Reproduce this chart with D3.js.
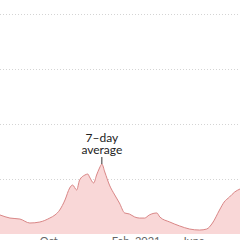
<!DOCTYPE html>
<html>
<head>
<meta charset="utf-8">
<script src="https://cdn.jsdelivr.net/npm/d3@7"></script>
<style>
	html, body { margin: 0; padding: 0; background: #fff; }
	svg { display: block; }
</style>
</head>
<body>
<div id="chart"></div>
<script>
	// 7-day average (thousands)
	var dates = ["2020-07-25", "2020-08-11", "2020-08-28", "2020-09-14", "2020-10-01",
		"2020-10-18", "2020-10-27", "2020-11-04", "2020-11-13", "2020-11-21",
		"2020-11-26", "2020-12-03", "2020-12-08", "2020-12-17", "2020-12-22",
		"2020-12-25", "2021-01-01", "2021-01-06", "2021-01-11", "2021-01-15",
		"2021-01-20", "2021-01-28", "2021-02-06", "2021-02-14", "2021-02-23",
		"2021-03-03", "2021-03-12", "2021-03-20", "2021-03-29", "2021-04-06",
		"2021-04-19", "2021-04-24", "2021-05-11", "2021-05-28", "2021-06-14",
		"2021-07-01", "2021-07-13", "2021-07-23", "2021-08-04", "2021-08-12",
		"2021-08-21", "2021-08-30", "2021-09-08"];
	var averages = [17.3, 14.5, 13.6, 10, 10.9,
		14.5, 17.3, 21.8, 30.9, 41.8,
		44.5, 40, 49.1, 53.6, 54.5,
		51.8, 46.4, 53.6, 60, 63.6,
		56.4, 44.5, 35.5, 28.2, 19.1,
		18.2, 15.5, 14.5, 14.5, 17.3,
		19.1, 15.5, 10.9, 7.3, 4.5,
		3.6, 4.5, 10, 21.8, 29.1,
		33.6, 38.2, 40.9];
	var gridValues = [50, 100, 150, 200];
	var tickDates = ["2020-10-01", "2021-02-01", "2021-06-01"];
	var tickLabels = ["Oct.", "Feb. 2021", "June"];
	var annotationDate = "2021-01-15";
	var annotationLines = ["7\u2013day", "average"];

	var width = 240, height = 240;
	var parse = d3.timeParse("%Y-%m-%d");

	var data = dates.map(function(d, i) {
		return { date: parse(d), value: averages[i] };
	});

	var x = d3.scaleTime()
		.domain([parse("2020-07-25"), parse("2021-09-08")])
		.range([0, width]);
	var y = d3.scaleLinear()
		.domain([0, 200])
		.range([234, 14]);

	var svg = d3.select("#chart").append("svg")
		.attr("width", width)
		.attr("height", height);

	// gridlines
	svg.selectAll(".grid").data(gridValues).enter().append("line")
		.attr("x1", 0).attr("x2", width)
		.attr("y1", function(d) { return Math.round(y(d)) + 0.5; })
		.attr("y2", function(d) { return Math.round(y(d)) + 0.5; })
		.attr("stroke", "#d4d4d4")
		.attr("stroke-dasharray", "1,2");

	var area = d3.area()
		.x(function(d) { return x(d.date); })
		.y0(y(0))
		.y1(function(d) { return y(d.value); })
		.curve(d3.curveMonotoneX);
	var line = d3.line()
		.x(function(d) { return x(d.date); })
		.y(function(d) { return y(d.value); })
		.curve(d3.curveMonotoneX);

	svg.append("path").datum(data)
		.attr("d", area)
		.attr("fill", "#f9d7d7");
	svg.append("path").datum(data)
		.attr("d", line)
		.attr("fill", "none")
		.attr("stroke", "#d98686")
		.attr("stroke-width", 1);

	// x axis labels (cut off at bottom)
	svg.selectAll(".tick").data(tickDates).enter().append("text")
		.attr("x", function(d) { return x(parse(d)); })
		.attr("y", 245)
		.attr("font-family", "Lato, 'Liberation Sans', sans-serif")
		.attr("font-size", "11px")
		.attr("fill", "#666")
		.text(function(d, i) { return tickLabels[i]; });

	// annotation
	var ad = parse(annotationDate);
	var peak = data.filter(function(d) { return +d.date === +ad; })[0];
	var ax = x(ad);
	svg.append("line")
		.attr("x1", ax).attr("x2", ax)
		.attr("y1", 157).attr("y2", y(peak.value))
		.attr("stroke", "#333")
		.attr("stroke-width", 1);
	svg.selectAll(".ann").data(annotationLines).enter().append("text")
		.attr("x", ax)
		.attr("y", function(d, i) { return 142 + i * 12; })
		.attr("text-anchor", "middle")
		.attr("font-family", "Lato, 'Liberation Sans', sans-serif")
		.attr("font-size", "12px")
		.attr("fill", "#222")
		.text(function(d) { return d; });
</script>
</body>
</html>
